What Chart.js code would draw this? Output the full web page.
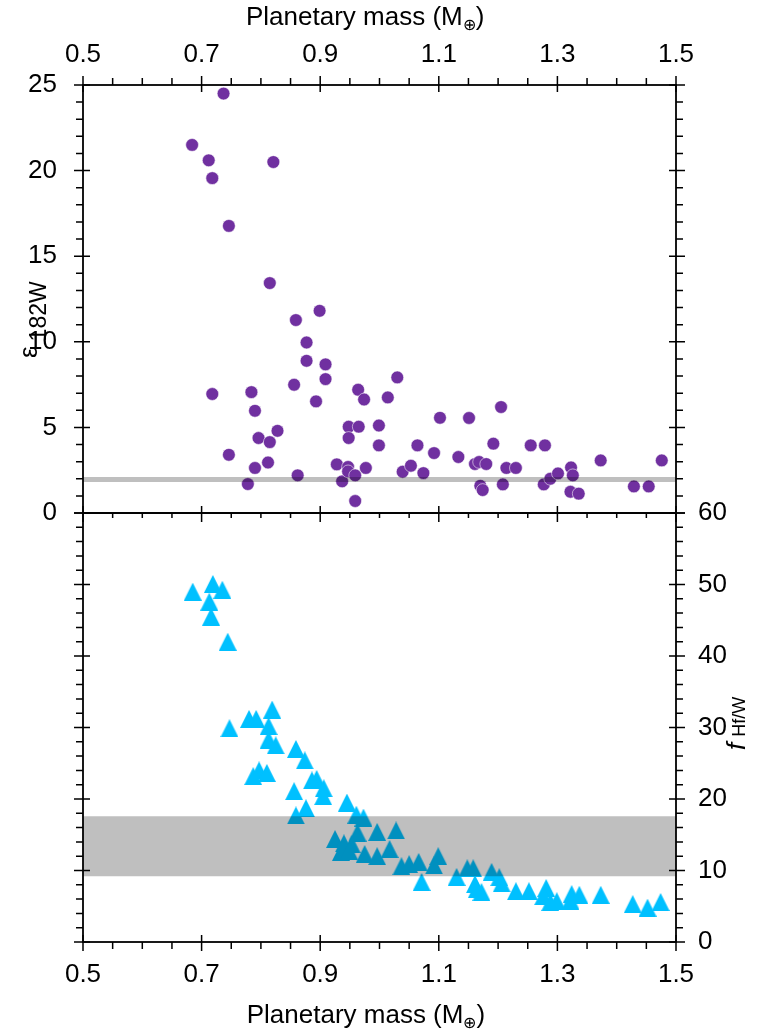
<!DOCTYPE html>
<html><head><meta charset="utf-8">
<script src="https://cdn.jsdelivr.net/npm/chart.js@4.4.0/dist/chart.umd.min.js"></script>
<style>
html,body{margin:0;padding:0;background:#fff;}
#wrap{position:relative;width:779px;height:1035px;}
canvas{position:absolute;left:0;top:0;}
</style></head><body>
<div id="wrap"><canvas id="cA" width="779" height="1035"></canvas><canvas id="cB" width="779" height="1035"></canvas></div>
<script>
// ---- axis definitions ----
const massMin = 0.5, massMax = 1.5;
const massTicks = [0.5, 0.7, 0.9, 1.1, 1.3, 1.5];
const epsTicks = [0, 5, 10, 15, 20, 25];
const fTicks = [0, 10, 20, 30, 40, 50, 60];

// ---- top panel: epsilon 182W vs planetary mass ----
const epsMass = [0.684,0.712,0.718,0.737,0.746,0.821,0.815,0.899,0.859,0.877,
  0.877,0.909,0.909,0.856,0.893,0.718,0.784,0.790,0.964,0.974,
  1.030,1.014,1.102,0.828,0.796,0.815,0.746,0.948,0.965,0.948,
  0.999,0.999,1.064,1.092,0.812,0.790,0.928,0.947,0.977,0.937,
  0.947,0.959,0.862,0.778,0.959,1.039,1.053,1.074,1.151,1.205,
  1.133,1.161,1.168,1.180,1.192,1.170,1.174,1.214,1.230,1.208,
  1.255,1.279,1.277,1.288,1.301,1.323,1.326,1.322,1.336,1.373,
  1.429,1.454,1.476];
const epsValues = [21.5,20.6,19.56,24.5,16.77,20.5,13.43,11.81,11.27,9.96,
  8.89,8.68,7.82,7.49,6.52,6.95,7.06,5.97,7.2,6.63,
  7.92,6.75,5.56,4.80,4.38,4.14,3.40,5.04,5.04,4.38,
  5.11,3.95,3.95,3.50,2.95,2.63,2.84,2.69,2.63,1.85,
  2.43,2.20,2.20,1.69,0.70,2.41,2.76,2.33,5.55,6.19,
  3.27,2.86,2.98,2.86,4.05,1.59,1.34,2.63,2.63,1.67,
  3.95,3.95,1.67,2.0,2.31,2.66,2.20,1.24,1.13,3.07,
  1.55,1.55,3.07];
const epsRefLine = 1.95;

// ---- bottom panel: f Hf/W vs planetary mass ----
const fMass = [0.685,0.719,0.735,0.713,0.716,0.744,0.747,0.780,0.792,0.819,
  0.813,0.813,0.825,0.859,0.874,0.797,0.787,0.810,0.894,0.886,
  0.906,0.905,0.856,0.876,0.859,0.945,0.961,0.973,0.963,0.996,
  1.028,0.925,0.940,0.953,0.935,0.949,0.975,0.996,1.017,1.037,
  1.050,1.066,1.099,1.092,1.071,1.130,1.148,1.158,1.164,1.189,
  1.202,1.161,1.172,1.206,1.230,1.252,1.281,1.276,1.299,1.288,
  1.324,1.337,1.322,1.373,1.427,1.452,1.474];
const fValues = [49.0,50.07,49.26,47.6,45.5,42.0,29.9,31.2,31.2,32.5,
  30.2,28.3,27.5,27.0,25.4,24.0,23.2,23.65,22.8,22.6,
  21.5,20.4,21.1,18.7,17.7,19.5,17.8,17.4,15.3,15.4,
  15.6,14.4,13.8,13.7,12.6,12.7,12.3,12.0,13.0,10.6,
  10.9,11.2,12.0,10.7,8.4,9.1,10.3,10.3,7.4,9.8,
  9.06,8.1,7.0,8.2,7.1,7.1,7.55,6.4,5.7,5.6,
  6.7,6.6,5.8,6.6,5.3,4.8,5.6];
const fBandLow = 9.2, fBandHigh = 17.6;

const FONT = '"Liberation Sans", Arial, Helvetica, sans-serif';
Chart.defaults.font.family = FONT;
Chart.defaults.color = '#000';

function toPoints(xs, ys){ return xs.map((x,i)=>({x:x, y:ys[i]})); }
function fixedTicks(list){ return s => { s.ticks = list.map(v=>({value:v})); }; }

function triangleImage(w, h, color){
  const c = document.createElement('canvas'); c.width = w; c.height = h;
  const g = c.getContext('2d'); g.fillStyle = color;
  g.beginPath(); g.moveTo(w/2, 0); g.lineTo(w, h); g.lineTo(0, h); g.closePath(); g.fill();
  return c;
}

function drawMassTitle(ctx, x0, baseline){
  ctx.fillStyle = '#000'; ctx.textAlign = 'left'; ctx.textBaseline = 'alphabetic';
  const t1 = 'Planetary mass (M', t2 = '\u2295', t3 = ')';
  ctx.font = '26px ' + FONT; ctx.fillText(t1, x0, baseline);
  let w = ctx.measureText(t1).width;
  ctx.font = '16px ' + FONT; ctx.fillText(t2, x0 + w, baseline + 5);
  w += ctx.measureText(t2).width;
  ctx.font = '26px ' + FONT; ctx.fillText(t3, x0 + w, baseline);
}

const MAJ_OUT = 9, MAJ_IN = 7, MIN_OUT = 7;

function drawXTicks(ctx, xs, y, dir, minorLen){
  // dir = -1 -> outward is up, +1 -> outward is down
  for (let i = 0; i <= 20; i++){
    const v = massMin + i * 0.05;
    const px = xs.getPixelForValue(v);
    if (i % 4 === 0){ ctx.moveTo(px, y - dir*MAJ_IN); ctx.lineTo(px, y + dir*MAJ_OUT); }
    else { ctx.moveTo(px, y); ctx.lineTo(px, y + dir*minorLen); }
  }
}
function drawYTicks(ctx, ys, a, maxV, minorStep, majorStep){
  for (let v = 0; v <= maxV; v += minorStep){
    const py = ys.getPixelForValue(v);
    if (v % majorStep === 0){
      ctx.moveTo(a.left - MAJ_OUT, py); ctx.lineTo(a.left + MAJ_IN, py);
      ctx.moveTo(a.right - MAJ_IN, py); ctx.lineTo(a.right + MAJ_OUT, py);
    } else {
      ctx.moveTo(a.left - MIN_OUT, py); ctx.lineTo(a.left, py);
      ctx.moveTo(a.right, py); ctx.lineTo(a.right + MIN_OUT, py);
    }
  }
}

const axesA = {
  id: 'axesA',
  afterDraw(chart){
    const ctx = chart.ctx, a = chart.chartArea, xs = chart.scales.x, ys = chart.scales.y;
    ctx.save();
    ctx.strokeStyle = '#000'; ctx.lineWidth = 1.5;
    ctx.beginPath();
    drawXTicks(ctx, xs, a.top, -1, MIN_OUT);
    drawXTicks(ctx, xs, a.bottom, 1, 5);
    drawYTicks(ctx, ys, a, 25, 1, 5);
    ctx.stroke();
    ctx.lineWidth = 1.8;
    ctx.strokeRect(a.left, a.top, a.right - a.left, a.bottom - a.top);
    drawMassTitle(ctx, 246, 25);
    // left title: epsilon 182W
    ctx.save();
    ctx.translate(37, 358); ctx.rotate(-Math.PI/2);
    ctx.fillStyle = '#000'; ctx.textAlign = 'left'; ctx.textBaseline = 'alphabetic';
    ctx.font = '26px ' + FONT; ctx.fillText('\u03B5', 0, 0);
    const w = ctx.measureText('\u03B5').width;
    ctx.font = '23px ' + FONT; ctx.fillText('182W', w + 5, 9);
    ctx.restore();
    ctx.restore();
  }
};

const axesB = {
  id: 'axesB',
  afterDraw(chart){
    const ctx = chart.ctx, a = chart.chartArea, xs = chart.scales.x, ys = chart.scales.y;
    ctx.save();
    ctx.strokeStyle = '#000'; ctx.lineWidth = 1.5;
    ctx.beginPath();
    drawXTicks(ctx, xs, a.bottom, 1, MIN_OUT);
    drawYTicks(ctx, ys, a, 60, 2, 10);
    ctx.stroke();
    ctx.lineWidth = 1.8;
    ctx.strokeRect(a.left, a.top, a.right - a.left, a.bottom - a.top);
    drawMassTitle(ctx, 246.7, 1023);
    // right title: f Hf/W
    ctx.save();
    ctx.translate(745, 750); ctx.rotate(-Math.PI/2);
    ctx.fillStyle = '#000'; ctx.textAlign = 'left'; ctx.textBaseline = 'alphabetic';
    ctx.font = 'italic 26px ' + FONT; ctx.fillText('f', 0, 0);
    const w = ctx.measureText('f').width;
    ctx.font = '18px ' + FONT; ctx.fillText('Hf/W', w + 6, 0);
    ctx.restore();
    ctx.restore();
  }
};

const common = {
  responsive: false, animation: false, devicePixelRatio: 1, events: [],
  plugins: { legend: { display: false }, tooltip: { enabled: false } }
};
const tickFont = { size: 26 };

new Chart(document.getElementById('cA'), {
  type: 'scatter',
  data: { datasets: [
    { type: 'line', data: [{x: massMin, y: epsRefLine}, {x: massMax, y: epsRefLine}],
      borderColor: 'rgba(0,0,0,0.25)', borderWidth: 5, pointRadius: 0, fill: false },
    { data: toPoints(epsMass, epsValues), pointRadius: 6.4,
      pointBackgroundColor: '#7030a0', pointBorderColor: 'rgba(255,255,255,0.55)', pointBorderWidth: 1 }
  ]},
  options: Object.assign({}, common, {
    layout: { padding: { left: 0, top: 0, right: 103, bottom: 522 } },
    scales: {
      x: { type: 'linear', position: 'top', min: massMin, max: massMax,
        afterBuildTicks: fixedTicks(massTicks), afterFit: s => { s.height = 85; },
        grid: { display: false, drawTicks: false }, border: { display: false },
        ticks: { padding: 15, font: tickFont, color: '#000', maxRotation: 0, autoSkip: false,
          callback: v => Number(v).toFixed(1) } },
      y: { type: 'linear', position: 'left', min: 0, max: 25,
        afterBuildTicks: fixedTicks(epsTicks), afterFit: s => { s.width = 83; },
        grid: { display: false, drawTicks: false }, border: { display: false },
        ticks: { padding: 26, font: tickFont, color: '#000', autoSkip: false } }
    }
  }),
  plugins: [axesA]
});

new Chart(document.getElementById('cB'), {
  type: 'scatter',
  data: { datasets: [
    { type: 'line', data: [{x: massMin, y: fBandHigh}, {x: massMax, y: fBandHigh}],
      borderColor: 'rgba(0,0,0,0)', borderWidth: 0, pointRadius: 0,
      fill: { value: fBandLow }, backgroundColor: 'rgba(0,0,0,0.25)' },
    { data: toPoints(fMass, fValues), pointRadius: 9,
      pointStyle: triangleImage(18, 18, '#00c0ff') }
  ]},
  options: Object.assign({}, common, {
    layout: { padding: { left: 83, top: 513, right: 0, bottom: 0 } },
    scales: {
      x: { type: 'linear', position: 'bottom', min: massMin, max: massMax,
        afterBuildTicks: fixedTicks(massTicks), afterFit: s => { s.height = 93; },
        grid: { display: false, drawTicks: false }, border: { display: false },
        ticks: { padding: 17, font: tickFont, color: '#000', maxRotation: 0, autoSkip: false,
          callback: v => Number(v).toFixed(1) } },
      y: { type: 'linear', position: 'right', min: 0, max: 60,
        afterBuildTicks: fixedTicks(fTicks), afterFit: s => { s.width = 103; },
        grid: { display: false, drawTicks: false }, border: { display: false },
        ticks: { padding: 22, font: tickFont, color: '#000', autoSkip: false } }
    }
  }),
  plugins: [axesB]
});
</script>
</body></html>
